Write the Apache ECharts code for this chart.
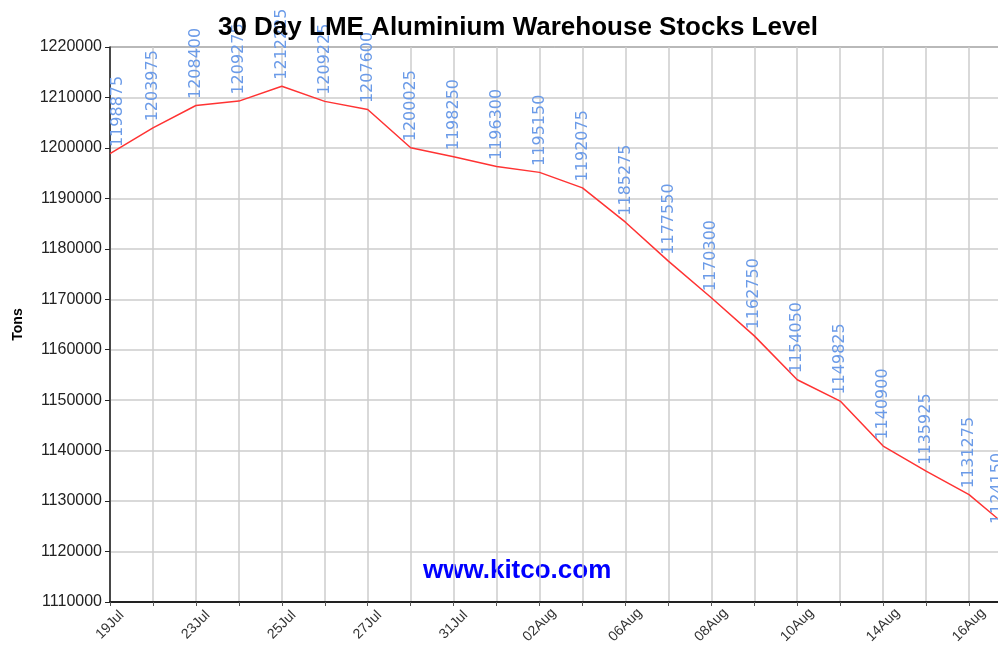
<!DOCTYPE html>
<html>
<head>
<meta charset="utf-8">
<script src="https://cdn.jsdelivr.net/npm/echarts@6/dist/echarts.min.js"></script>
<style>html,body{margin:0;padding:0;background:#fff;}#c{width:998px;height:647px;}</style>
</head>
<body>
<div id="c"></div>
<script>
var titleText = '30 Day LME Aluminium Warehouse Stocks Level';
var yAxisName = 'Tons';
var watermark = 'www.kitco.com';
var dates = ['19Jul','20Jul','23Jul','24Jul','25Jul','26Jul','27Jul','30Jul','31Jul','01Aug','02Aug','03Aug','06Aug','07Aug','08Aug','09Aug','10Aug','13Aug','14Aug','15Aug','16Aug','17Aug'];
var stocks = [1198875,1203975,1208400,1209275,1212225,1209225,1207600,1200025,1198250,1196300,1195150,1192075,1185275,1177550,1170300,1162750,1154050,1149825,1140900,1135925,1131275,1124150];
var yMin = 1110000, yMax = 1220000, yStep = 10000;

var chart = echarts.init(document.getElementById('c'), null, {renderer: 'canvas'});
chart.setOption({
  animation: false,
  backgroundColor: '#ffffff',
  title: {
    text: titleText,
    left: 513, top: 10, textAlign: 'center',
    textStyle: {fontFamily: 'Liberation Sans, Arial, sans-serif', fontSize: 26, fontWeight: 'bold', color: '#000'}
  },
  grid: {left: 110, top: 47, width: 902, height: 555, outerBoundsMode: 'none', containLabel: false, show: true, borderColor: '#000', borderWidth: 1, backgroundColor: 'transparent'},
  graphic: [{
    type: 'text', left: 423, top: 558, z: 0,
    style: {text: watermark, fill: '#0000ff', font: 'bold 26px "Liberation Sans", Arial, sans-serif'}
  }],
  xAxis: {
    type: 'category', data: dates, boundaryGap: false,
    axisLine: {lineStyle: {color: '#222', width: 2}},
    axisTick: {show: true, interval: 0, length: 4, lineStyle: {color: '#555'}},
    axisLabel: {interval: 1, rotate: 45, fontSize: 14, color: '#333', fontFamily: 'Liberation Sans, Arial, sans-serif', align: 'center', verticalAlign: 'middle', margin: 23},
    splitLine: {show: true, interval: 0, lineStyle: {color: '#cccccc', width: 1.5}}
  },
  yAxis: {
    type: 'value', min: yMin, max: yMax, interval: yStep,
    name: yAxisName, nameLocation: 'middle', nameGap: 85, nameRotate: 90,
    nameTextStyle: {fontFamily: 'Liberation Sans, Arial, sans-serif', fontSize: 14, fontWeight: 'bold', color: '#000'},
    axisLine: {show: true, lineStyle: {color: '#222', width: 1.5}},
    axisTick: {show: true, length: 5, lineStyle: {color: '#222'}},
    axisLabel: {fontSize: 16, color: '#222', margin: 8, fontFamily: 'Liberation Sans, Arial, sans-serif',
      formatter: function (v) { return String(v); }},
    splitLine: {show: true, lineStyle: {color: '#cccccc', width: 1.5}}
  },
  series: [{
    type: 'line', data: stocks, symbol: 'circle', symbolSize: 1, showSymbol: true, showAllSymbol: true, z: 3,
    itemStyle: {color: 'rgba(0,0,0,0)'},
    lineStyle: {color: '#ff3333', width: 1.5},
    label: {
      show: true, position: 'top', distance: 6, rotate: 90, align: 'left', verticalAlign: 'middle',
      color: '#6b9be8', fontSize: 16, fontFamily: 'DejaVu Sans, sans-serif'
    }
  }]
});

// keep value labels inside the visible drawing area (clamp horizontally);
// labels are rotated 90deg, so the local y offset moves them horizontally
var half = 6, minX = 112, maxX = 1004;
var items = stocks.map(function (v, i) {
  var px = chart.convertToPixel({seriesIndex: 0}, [i, v])[0];
  var dx = 0;
  if (px - half < minX) dx = minX - (px - half);
  if (px + half > maxX) dx = maxX - (px + half);
  return dx ? {value: v, label: {offset: [0, dx]}} : v;
});
chart.setOption({series: [{data: items}]});
</script>
</body>
</html>
